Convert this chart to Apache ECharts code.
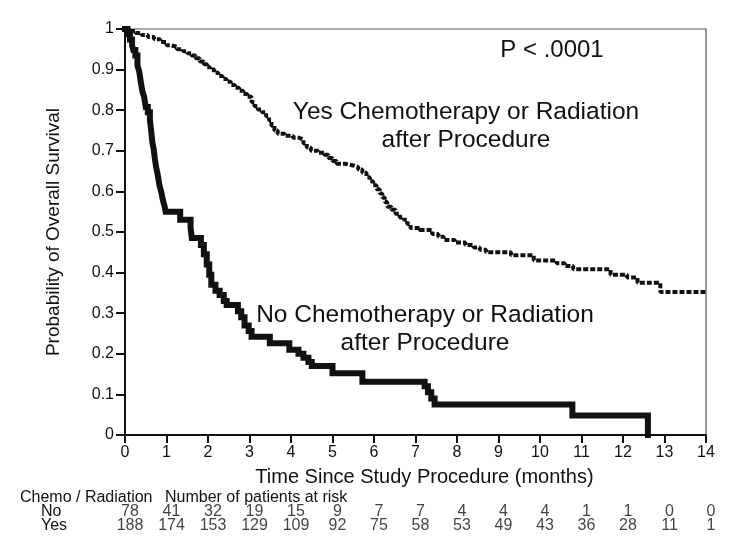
<!DOCTYPE html>
<html>
<head>
<meta charset="utf-8">
<script src="https://cdn.jsdelivr.net/npm/echarts@6/dist/echarts.min.js"></script>
<style>html,body{margin:0;padding:0;background:#fff}#c{width:736px;height:554px}</style>
</head>
<body>
<div id="c"></div>
<script>
// Kaplan-Meier survival, No chemo/radiation after procedure: [months, survival]
var noCurve = [[0,1],[0.06,0.987],[0.12,0.974],[0.17,0.96],[0.2,0.948],[0.25,0.935],[0.3,0.91],[0.34,0.897],[0.38,0.87],[0.42,0.846],[0.46,0.833],[0.5,0.808],[0.55,0.795],[0.6,0.776],[0.63,0.75],[0.66,0.72],[0.69,0.705],[0.72,0.68],[0.75,0.66],[0.79,0.64],[0.83,0.615],[0.87,0.6],[0.91,0.58],[0.95,0.565],[0.98,0.55],[1.33,0.53],[1.58,0.51],[1.61,0.485],[1.83,0.468],[1.9,0.445],[1.97,0.42],[2.03,0.395],[2.08,0.37],[2.18,0.355],[2.28,0.345],[2.38,0.33],[2.45,0.32],[2.72,0.305],[2.8,0.29],[2.88,0.27],[2.98,0.256],[3.05,0.242],[3.49,0.226],[3.96,0.21],[4.18,0.2],[4.3,0.19],[4.42,0.18],[4.5,0.17],[5.0,0.152],[5.72,0.131],[7.22,0.12],[7.3,0.105],[7.38,0.09],[7.46,0.075],[10.78,0.048],[12.6,0]];
// Yes chemo/radiation after procedure
var yesCurve = [[0,1],[0.1,0.995],[0.25,0.99],[0.4,0.985],[0.55,0.98],[0.7,0.975],[0.85,0.968],[1.0,0.96],[1.1,0.956],[1.25,0.95],[1.4,0.945],[1.5,0.94],[1.6,0.935],[1.7,0.928],[1.8,0.92],[1.9,0.913],[1.98,0.906],[2.05,0.9],[2.15,0.892],[2.25,0.884],[2.35,0.877],[2.45,0.87],[2.55,0.862],[2.65,0.855],[2.75,0.848],[2.85,0.84],[2.95,0.833],[3.05,0.82],[3.12,0.81],[3.2,0.802],[3.3,0.795],[3.4,0.785],[3.47,0.775],[3.53,0.762],[3.6,0.75],[3.68,0.742],[3.85,0.737],[4.05,0.732],[4.2,0.728],[4.3,0.718],[4.38,0.708],[4.48,0.7],[4.65,0.695],[4.8,0.69],[4.9,0.682],[5.0,0.675],[5.1,0.668],[5.3,0.664],[5.5,0.66],[5.62,0.654],[5.72,0.646],[5.82,0.635],[5.9,0.625],[5.98,0.615],[6.06,0.605],[6.14,0.595],[6.2,0.585],[6.26,0.574],[6.32,0.562],[6.42,0.555],[6.52,0.545],[6.62,0.536],[6.72,0.53],[6.8,0.52],[6.88,0.51],[7.1,0.505],[7.4,0.495],[7.55,0.488],[7.68,0.48],[7.95,0.474],[8.2,0.468],[8.4,0.462],[8.55,0.456],[8.7,0.45],[9.3,0.443],[9.85,0.43],[10.4,0.423],[10.6,0.416],[10.8,0.408],[11.7,0.395],[12.1,0.388],[12.35,0.375],[12.9,0.352],[14,0.352]];
var riskTimes = [0,1,2,3,4,5,6,7,8,9,10,11,12,13,14];
var riskNo  = [78,41,32,19,15,9,7,7,4,4,4,1,1,0,0];
var riskYes = [188,174,153,129,109,92,75,58,53,49,43,36,28,11,1];
var riskGroups = ['No','Yes'];

var FONT = '"Liberation Sans", Arial, sans-serif';
var INK = '#111';

var riskData = [];
riskTimes.forEach(function(t,i){
  riskData.push([t,'No',riskNo[i]]);
  riskData.push([t,'Yes',riskYes[i]]);
});

var chart = echarts.init(document.getElementById('c'), null, {renderer:'canvas'});
chart.setOption({
  backgroundColor:'#fff',
  animation:false,
  grid:[
    {left:125, right:30, top:29, bottom:119, show:true, borderColor:'#555', borderWidth:1.2},
    {left:125, right:30, top:505, height:28}
  ],
  xAxis:[
    {gridIndex:0, type:'value', min:0, max:14, interval:1,
     axisLine:{onZero:false, lineStyle:{color:INK, width:2}},
     axisTick:{show:true, inside:false, length:8, lineStyle:{color:INK, width:2}},
     axisLabel:{color:INK, fontFamily:FONT, fontSize:16, margin:10},
     splitLine:{show:false},
     name:'Time Since Study Procedure (months)', nameLocation:'middle', nameGap:32,
     nameTextStyle:{color:INK, fontFamily:FONT, fontSize:20, padding:[0,0,0,18]}
    },
    {gridIndex:1, type:'value', min:0, max:14, interval:1, show:false}
  ],
  yAxis:[
    {gridIndex:0, type:'value', min:0, max:1, interval:0.1,
     axisLine:{show:true, lineStyle:{color:INK, width:2}},
     axisTick:{show:true, inside:false, length:9, lineStyle:{color:INK, width:2}},
     axisLabel:{color:INK, fontFamily:FONT, fontSize:16, margin:11,
       formatter:function(v){ if (Math.abs(v)<1e-9) return '0'; if (Math.abs(v-1)<1e-9) return '1'; return v.toFixed(1);} },
     splitLine:{show:false},
     name:'Probability of Overall Survival', nameLocation:'middle', nameGap:62,
     nameTextStyle:{color:INK, fontFamily:FONT, fontSize:19}
    },
    {gridIndex:1, type:'category', data:riskGroups, inverse:true,
     axisLine:{show:false}, axisTick:{show:false},
     axisLabel:{color:INK, fontFamily:FONT, fontSize:16, align:'left', margin:84, interval:0, hideOverlap:false}
    }
  ],
  series:[
    {type:'line', name:'Yes', xAxisIndex:0, yAxisIndex:0, data:yesCurve, step:'end', showSymbol:false,
     lineStyle:{color:INK, width:4, type:[5,2]}, z:3},
    {type:'line', name:'No', xAxisIndex:0, yAxisIndex:0, data:noCurve, step:'end', showSymbol:false,
     lineStyle:{color:INK, width:6, cap:'square', join:'miter'}, z:4},
    {type:'scatter', xAxisIndex:1, yAxisIndex:1, data:riskData, symbolSize:2,
     itemStyle:{color:'rgba(0,0,0,0)'},
     labelLayout:{hideOverlap:false},
     label:{show:true, position:[6,1], align:'center', verticalAlign:'middle', color:INK, fontFamily:FONT, fontSize:16,
       formatter:function(p){return String(p.value[2]);}}
    }
  ],
  graphic:[
    {type:'text', left:20, top:490, style:{text:'Chemo / Radiation', fill:INK, font:'16px '+FONT}},
    {type:'text', left:165, top:490, style:{text:'Number of patients at risk', fill:INK, font:'16px '+FONT}},
    {type:'text', x:552, y:50, style:{text:'P < .0001', fill:INK, font:'24px '+FONT, align:'center', verticalAlign:'middle'}},
    {type:'text', x:466, y:126, style:{text:'Yes Chemotherapy or Radiation\nafter Procedure', fill:INK, font:'24.5px '+FONT, align:'center', verticalAlign:'middle', lineHeight:28}},
    {type:'text', x:425, y:329, style:{text:'No Chemotherapy or Radiation\nafter Procedure', fill:INK, font:'24.5px '+FONT, align:'center', verticalAlign:'middle', lineHeight:28}}
  ]
});
</script>
</body>
</html>
